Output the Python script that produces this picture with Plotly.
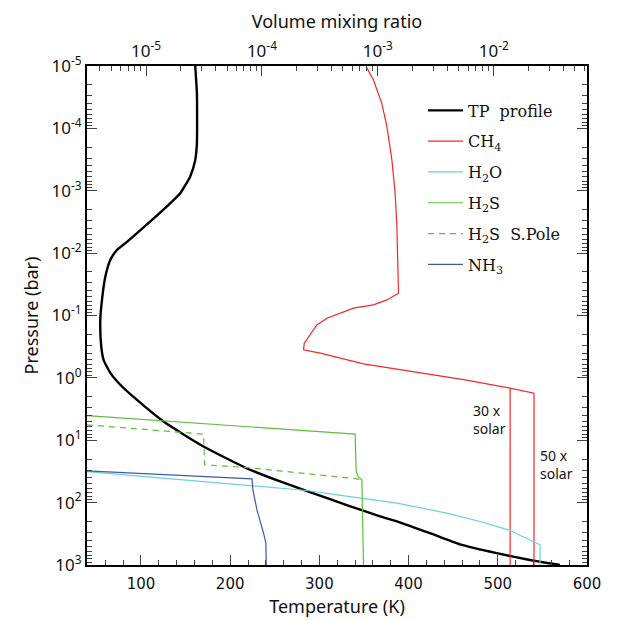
import numpy as np
import plotly.graph_objects as go

# Temperature-pressure profile (K, log10 bar)
tp_T = [160.8, 162.7, 162.7, 160.8, 155.2, 144.0, 129.1, 106.7, 84.3, 73.1, 65.6,
        60.0, 56.3, 54.4, 55.5, 58.1, 65.6, 76.8, 93.6, 125.3, 170.1, 218.7, 256.0,
        293.3, 330.7, 368.0, 386.7, 424.0, 457.6, 498.7, 536.0, 569.6]
tp_logP = [-5.0, -4.56, -3.76, -3.49, -3.23, -2.96, -2.75, -2.46, -2.18, -2.05, -1.89,
           -1.62, -1.25, -0.93, -0.50, -0.29, -0.08, 0.11, 0.33, 0.70, 1.10, 1.45, 1.66,
           1.85, 2.04, 2.22, 2.30, 2.49, 2.67, 2.81, 2.92, 3.0]

# CH4 profile, 50x solar deep abundance (log10 VMR, log10 bar)
ch4_logX = [-3.101, -3.038, -2.966, -2.922, -2.879, -2.851, -2.836, -2.831, -2.822,
            -2.922, -3.038, -3.210, -3.440, -3.526, -3.584, -3.635, -3.641, -3.497,
            -3.124, -2.808, -2.247, -1.859, -1.653, -1.653]
ch4_logP = [-4.99, -4.776, -4.402, -4.027, -3.494, -2.960, -2.425, -1.891, -1.357,
            -1.250, -1.170, -1.117, -0.957, -0.849, -0.689, -0.556, -0.449, -0.396,
            -0.224, -0.128, 0.032, 0.165, 0.245, 3.0]
# CH4 deep branch at 30x solar
ch4_30_logX = [-1.859, -1.859]
ch4_30_logP = [0.165, 3.0]

# H2O
h2o_logX = [-5.509, -4.129, -3.612, -3.411, -2.836, -2.405, -2.118, -1.874, -1.687,
            -1.601, -1.601]
h2o_logP = [1.502, 1.731, 1.806, 1.859, 2.008, 2.168, 2.303, 2.436, 2.596, 2.676, 3.0]

# H2S
h2s_logX = [-5.509, -3.196, -3.187, -3.167, -3.138, -3.124]
h2s_logP = [0.604, 0.902, 1.502, 1.591, 1.635, 3.0]

# H2S, south pole
h2s_sp_logX = [-5.509, -4.503, -4.495, -4.129, -3.181, -3.138]
h2s_sp_logP = [0.753, 0.902, 1.394, 1.437, 1.619, 1.635]

# NH3
nh3_logX = [-5.509, -4.086, -4.078, -4.043, -3.986, -3.966, -3.963]
nh3_logP = [1.490, 1.619, 1.795, 2.115, 2.489, 2.649, 3.0]

p_ticks = [-5, -4, -3, -2, -1, 0, 1, 2, 3]
x_ticks = [-5, -4, -3, -2]
t_ticks = [100, 200, 300, 400, 500, 600]


def pw(v):
    return 10.0 ** np.asarray(v, dtype=float)


RED = "#ee2a2a"
CYAN = "#6ccfe0"
GREEN = "#5ebd3e"
BLUE = "#3d5cae"

fig = go.Figure()

fig.add_trace(go.Scatter(x=tp_T, y=pw(tp_logP), mode="lines", name="TP  profile",
                         line=dict(color="black", width=2.4, shape="spline", smoothing=0.5),
                         legendgroup="a", xaxis="x", yaxis="y"))
fig.add_trace(go.Scatter(x=pw(ch4_logX), y=pw(ch4_logP), mode="lines", name="CH<sub>4</sub>",
                         line=dict(color=RED, width=1.2), legendgroup="b",
                         xaxis="x2", yaxis="y"))
fig.add_trace(go.Scatter(x=pw(ch4_30_logX), y=pw(ch4_30_logP), mode="lines",
                         line=dict(color=RED, width=1.2), showlegend=False, legendgroup="b",
                         xaxis="x2", yaxis="y"))
fig.add_trace(go.Scatter(x=pw(h2o_logX), y=pw(h2o_logP), mode="lines", name="H<sub>2</sub>O",
                         line=dict(color=CYAN, width=1.2), legendgroup="c",
                         xaxis="x2", yaxis="y"))
fig.add_trace(go.Scatter(x=pw(h2s_logX), y=pw(h2s_logP), mode="lines", name="H<sub>2</sub>S",
                         line=dict(color=GREEN, width=1.2), legendgroup="d",
                         xaxis="x2", yaxis="y"))
fig.add_trace(go.Scatter(x=pw(h2s_sp_logX), y=pw(h2s_sp_logP), mode="lines",
                         name="H<sub>2</sub>S  S.Pole",
                         line=dict(color=GREEN, width=1.2, dash="6px,5px"), legendgroup="e",
                         xaxis="x2", yaxis="y"))
fig.add_trace(go.Scatter(x=pw(nh3_logX), y=pw(nh3_logP), mode="lines", name="NH<sub>3</sub>",
                         line=dict(color=BLUE, width=1.2), legendgroup="f",
                         xaxis="x2", yaxis="y"))

SANS = "Noto Sans"
TICK = "#444444"

fig.update_layout(
    width=619, height=620,
    margin=dict(l=87, r=32, t=66, b=55),
    paper_bgcolor="white", plot_bgcolor="white",
    showlegend=True,
    legend=dict(x=0.672, y=0.945, xanchor="left", yanchor="top",
                font=dict(family="DejaVu Serif", size=16, color="#111"),
                bgcolor="rgba(0,0,0,0)", itemwidth=35, tracegroupgap=7,
                traceorder="grouped"),
    xaxis=dict(type="linear", range=[39.5, 600], showgrid=False, zeroline=False,
               automargin=False,
               showline=True, linecolor="black", linewidth=2, mirror=False,
               ticks="inside", ticklen=10, tickwidth=1, tickcolor=TICK,
               tickvals=t_ticks, ticktext=[str(t) for t in t_ticks],
               tickfont=dict(family="DejaVu Sans", size=15, color="#111"),
               ticklabelstandoff=4,
               minor=dict(ticks="inside", ticklen=5, tickwidth=1, tickcolor=TICK, dtick=20),
               title=dict(text="Temperature (K)", font=dict(family=SANS, size=18, color="#111"),
                          standoff=8)),
    xaxis2=dict(type="log", range=[-5.509, -1.196], overlaying="x", side="top", anchor="y",
                automargin=False,
                showgrid=False, zeroline=False, showline=True, linecolor="black", linewidth=2,
                ticks="inside", ticklen=10, tickwidth=1, tickcolor=TICK,
                tickvals=[10.0 ** k for k in x_ticks],
                ticktext=["10<sup>%d</sup>" % k for k in x_ticks],
                tickfont=dict(family=SANS, size=17, color="#111"),
                minor=dict(ticks="inside", ticklen=5, tickwidth=1, tickcolor=TICK, dtick="D1"),
                title=dict(text="Volume mixing ratio", font=dict(family=SANS, size=18, color="#111"),
                           standoff=4)),
    yaxis=dict(type="log", range=[3, -5], showgrid=False, zeroline=False,
               automargin=False,
               showline=True, linecolor="black", linewidth=2, mirror="ticks",
               ticks="inside", ticklen=10, tickwidth=1, tickcolor=TICK,
               tickvals=[10.0 ** k for k in p_ticks],
               ticktext=["10<sup>%d</sup>" % k for k in p_ticks],
               tickfont=dict(family=SANS, size=17, color="#111"),
               minor=dict(ticks="inside", ticklen=5, tickwidth=1, tickcolor=TICK, dtick="D1"),
               title=dict(text="Pressure (bar)", font=dict(family=SANS, size=18, color="#111"),
                          standoff=8)),
)

# Deep CH4 abundance labels
fig.add_annotation(x=470.0, y=0.673, xref="x", yref="y", text="30 x<br>solar",
                   showarrow=False, xanchor="left", yanchor="middle", align="left",
                   font=dict(family=SANS, size=14, color="#111"))
fig.add_annotation(x=545.5, y=1.394, xref="x", yref="y", text="50 x<br>solar",
                   showarrow=False, xanchor="left", yanchor="middle", align="left",
                   font=dict(family=SANS, size=14, color="#111"))

fig.write_html("out.html")
